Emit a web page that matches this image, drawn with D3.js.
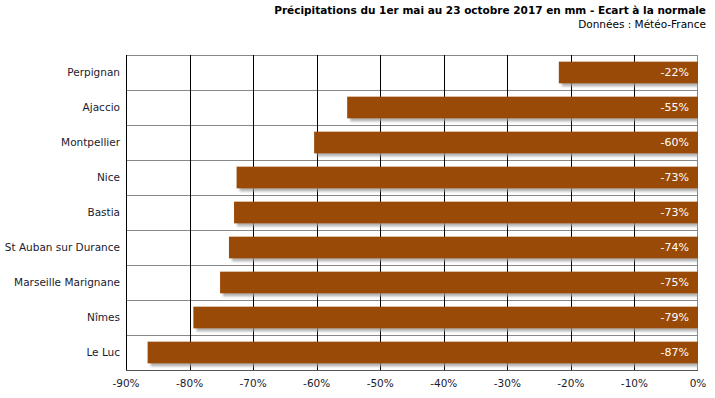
<!DOCTYPE html>
<html><head><meta charset="utf-8">
<script src="https://cdn.jsdelivr.net/npm/d3@7"></script>
<style>
body{margin:0;background:#fff;}
svg{display:block;font-family:"DejaVu Sans",Verdana,sans-serif;}
</style></head>
<body>
<svg id="chart" width="715" height="398"></svg>
<script>
const categories = ["Perpignan","Ajaccio","Montpellier","Nice","Bastia","St Auban sur Durance","Marseille Marignane","Nîmes","Le Luc"];
const values = [-21.9,-55.2,-60.4,-72.6,-73.0,-73.8,-75.2,-79.4,-86.6];
const tickValues = [-90,-80,-70,-60,-50,-40,-30,-20,-10,0];
const titleText = "Précipitations du 1er mai au 23 octobre 2017 en mm - Ecart à la normale";
const subtitleText = "Données : Météo-France";

const svg = d3.select("#chart");
const m = {left:126, right:17, top:55, bottom:28};
const W = 715, H = 398;
const x = d3.scaleLinear().domain([-90,0]).range([m.left, W-m.right]);
const y = d3.scaleBand().domain(categories).range([m.top, H-m.bottom]).paddingInner(0.38).paddingOuter(0.19);
const step = y.step();

const defs = svg.append("defs");
const f = defs.append("filter").attr("id","sh").attr("x","-5%").attr("y","-30%").attr("width","110%").attr("height","160%");
f.append("feGaussianBlur").attr("stdDeviation",1.3);
defs.append("clipPath").attr("id","clip").append("rect")
  .attr("x",m.left).attr("y",m.top).attr("width",x(0)-m.left).attr("height",H-m.bottom-m.top);

// horizontal row separators
svg.append("g").selectAll("line").data(d3.range(categories.length+1)).join("line")
  .attr("x1",m.left).attr("x2",x(0))
  .attr("y1",i=>m.top+i*step+0.5).attr("y2",i=>m.top+i*step+0.5)
  .attr("stroke","#888").attr("stroke-width",1);

// vertical grid
svg.append("g").selectAll("line").data(tickValues.slice(1,-1)).join("line")
  .attr("x1",d=>Math.round(x(d))+0.5).attr("x2",d=>Math.round(x(d))+0.5)
  .attr("y1",m.top).attr("y2",H-m.bottom)
  .attr("stroke","#000").attr("stroke-width",1);

// right border
svg.append("line").attr("x1",Math.round(x(0))-0.5).attr("x2",Math.round(x(0))-0.5)
  .attr("y1",m.top).attr("y2",H-m.bottom+0.5).attr("stroke","#888");

const g = svg.append("g").attr("clip-path","url(#clip)");
// shadows
g.selectAll("rect.sh").data(values).join("rect").attr("class","sh")
  .attr("x",d=>x(d)+3).attr("y",(d,i)=>y(categories[i])+3)
  .attr("width",d=>x(0)-x(d)).attr("height",y.bandwidth())
  .attr("fill","#9a9a9a").attr("opacity",0.75).attr("filter","url(#sh)");
// bars
g.selectAll("rect.bar").data(values).join("rect").attr("class","bar")
  .attr("x",d=>x(d)).attr("y",(d,i)=>y(categories[i]))
  .attr("width",d=>x(0)-x(d)).attr("height",y.bandwidth())
  .attr("fill","#9a4a07");

// value labels
svg.append("g").selectAll("text").data(values).join("text")
  .attr("x",x(0)-9).attr("y",(d,i)=>y(categories[i])+y.bandwidth()/2)
  .attr("dy","0.36em").attr("text-anchor","end")
  .attr("fill","#fff").attr("font-size","11px")
  .text(d=>Math.round(d)+"%");

// left axis line
svg.append("line").attr("x1",m.left+0.5).attr("x2",m.left+0.5)
  .attr("y1",m.top).attr("y2",H-m.bottom+1).attr("stroke","#000");
// bottom axis line
svg.append("line").attr("x1",m.left).attr("x2",x(0))
  .attr("y1",H-m.bottom+0.5).attr("y2",H-m.bottom+0.5).attr("stroke","#555");

// category labels
svg.append("g").selectAll("text").data(categories).join("text")
  .attr("x",m.left-6).attr("y",d=>y(d)+y.bandwidth()/2)
  .attr("dy","0.36em").attr("text-anchor","end")
  .attr("fill","#1a1a2e").attr("font-size","10.5px").text(d=>d);

// x tick labels
svg.append("g").selectAll("text").data(tickValues).join("text")
  .attr("x",d=>x(d)).attr("y",H-m.bottom+17)
  .attr("text-anchor","middle").attr("fill","#1a1a2e").attr("font-size","10.5px")
  .text(d=>d+"%");

// titles
svg.append("text").attr("x",706).attr("y",14).attr("text-anchor","end")
  .attr("font-weight","bold").attr("font-size","10.5px").attr("fill","#000")
  .text(titleText);
svg.append("text").attr("x",706).attr("y",28).attr("text-anchor","end")
  .attr("font-size","10.5px").attr("fill","#000")
  .text(subtitleText);
</script>
</body></html>
